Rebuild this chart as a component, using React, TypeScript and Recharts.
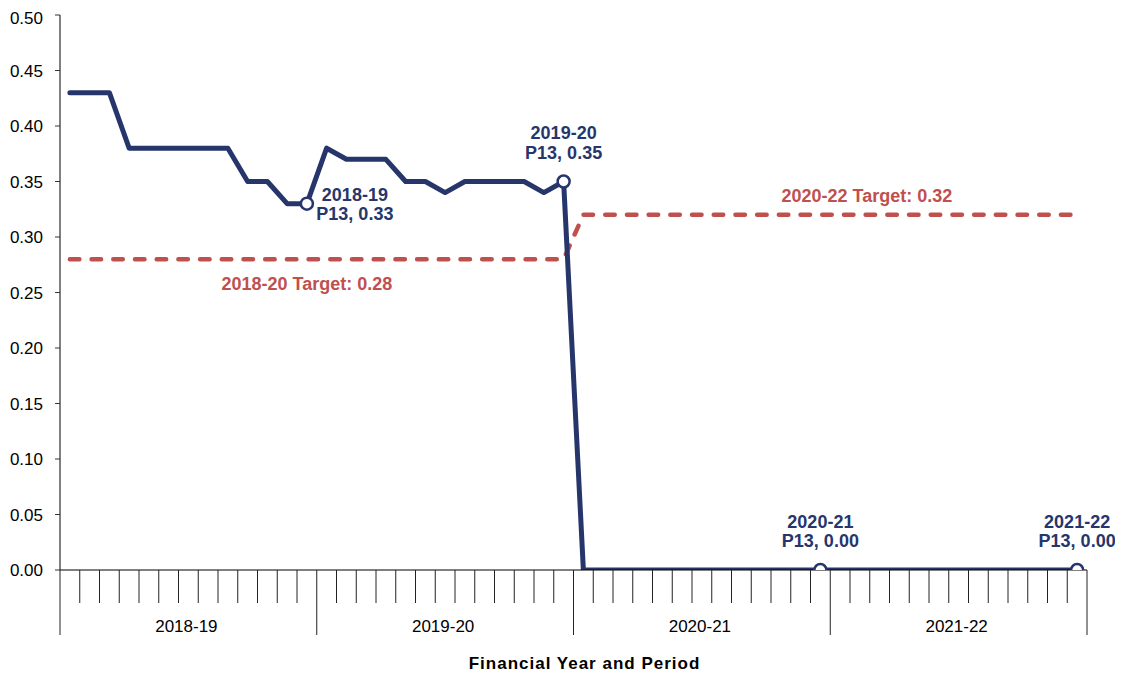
import React from 'react';
import { LineChart, Line, XAxis, YAxis, Label } from 'recharts';

// ---- Data -------------------------------------------------------------
const FIN_YEARS = ['2018-19', '2019-20', '2020-21', '2021-22'];
const PERIODS = ['P1', 'P2', 'P3', 'P4', 'P5', 'P6', 'P7', 'P8', 'P9', 'P10', 'P11', 'P12', 'P13'];

const RATE_2018_19 = [0.43, 0.43, 0.43, 0.38, 0.38, 0.38, 0.38, 0.38, 0.38, 0.35, 0.35, 0.33, 0.33];
const RATE_2019_20 = [0.38, 0.37, 0.37, 0.37, 0.35, 0.35, 0.34, 0.35, 0.35, 0.35, 0.35, 0.34, 0.35];
const RATE_2020_21 = [0, 0, 0, 0, 0, 0, 0, 0, 0, 0, 0, 0, 0];
const RATE_2021_22 = [0, 0, 0, 0, 0, 0, 0, 0, 0, 0, 0, 0, 0];

const TARGET_BY_YEAR = [0.28, 0.28, 0.32, 0.32];
const TARGET_NAMES = ['2018-20', '2018-20', '2020-22', '2020-22'];

const Y_TICKS = [0, 0.05, 0.1, 0.15, 0.2, 0.25, 0.3, 0.35, 0.4, 0.45, 0.5];

const RATES = [RATE_2018_19, RATE_2019_20, RATE_2020_21, RATE_2021_22];

const data = FIN_YEARS.flatMap((fy, y) =>
  PERIODS.map((p, i) => ({
    key: `${fy} ${p}`,
    fy,
    yearIdx: y,
    period: p,
    rate: RATES[y][i],
    target: TARGET_BY_YEAR[y],
    targetName: TARGET_NAMES[y],
  }))
);

// ---- Layout & style ---------------------------------------------------
const CHART_W = 1107;
const CHART_H = 667;
const MARGIN = { top: 7, right: 28, bottom: 0, left: 0 };
const Y_AXIS_W = 52;
const X_AXIS_H = 105;
const PLOT_W = CHART_W - MARGIN.left - MARGIN.right - Y_AXIS_W;
const BAND = PLOT_W / data.length;

const FONT = '"Liberation Sans", Arial, Helvetica, sans-serif';
const NAVY = '#26366B';
const RED = '#C0504D';

// Period tick marks at band edges, longer marks at year boundaries, year names centred.
const PeriodTick = (props: any) => {
  const { x, y, index } = props;
  const n = PERIODS.length;
  const left = x - BAND / 2;
  const right = x + BAND / 2;
  const isYearStart = index % n === 0;
  const isLast = index === data.length - 1;
  const isMid = index % n === Math.floor(n / 2);
  return (
    <g>
      <line x1={left} x2={left} y1={y} y2={y + (isYearStart ? 65 : 33)} stroke="#222" strokeWidth={1} />
      {isLast && <line x1={right} x2={right} y1={y} y2={y + 65} stroke="#222" strokeWidth={1} />}
      {isMid && (
        <text x={x - 2} y={y + 62} textAnchor="middle" fontFamily={FONT} fontSize={17} fill="#000">
          {data[index].fy}
        </text>
      )}
    </g>
  );
};

const AxisTitle = (props: any) => {
  const { viewBox } = props;
  return (
    <text
      x={viewBox.x + viewBox.width / 2 + 11}
      y={viewBox.y + 99}
      textAnchor="middle"
      fontFamily={FONT}
      fontSize={17}
      fontWeight="bold"
      letterSpacing={1}
      fill="#000"
    >
      Financial Year and Period
    </text>
  );
};

// Year-end (P13) markers with their callouts.
const RateDot = (props: any) => {
  const { cx, cy, index, payload } = props;
  if (payload.period !== PERIODS[PERIODS.length - 1]) return <g key={`rd${index}`} />;
  const toRight = payload.yearIdx === 0;
  const tx = toRight ? cx + 48 : cx;
  const y1 = toRight ? cy - 3 : cy - 42.5;
  const y2 = y1 + 19.5;
  return (
    <g key={`rd${index}`}>
      <circle cx={cx} cy={cy} r={6} fill="#fff" stroke={NAVY} strokeWidth={2.5} />
      <text textAnchor="middle" fontFamily={FONT} fontSize={18} fontWeight="bold" fill={NAVY}>
        <tspan x={tx} y={y1}>{payload.fy}</tspan>
        <tspan x={tx} y={y2}>{`${payload.period}, ${payload.rate.toFixed(2)}`}</tspan>
      </text>
    </g>
  );
};

// Target names written once per target period.
const TARGET_LABEL_AT: Record<number, { dx: number; dy: number }> = {
  12: { dx: 0, dy: 31 },
  40: { dx: 7, dy: -12.7 },
};

const TargetDot = (props: any) => {
  const { cx, cy, index, payload } = props;
  const pos = TARGET_LABEL_AT[index];
  if (!pos) return <g key={`td${index}`} />;
  return (
    <text
      key={`td${index}`}
      x={cx + pos.dx}
      y={cy + pos.dy}
      textAnchor="middle"
      fontFamily={FONT}
      fontSize={18}
      fontWeight="bold"
      fill={RED}
    >
      {`${payload.targetName} Target: ${payload.target.toFixed(2)}`}
    </text>
  );
};

export default function App() {
  return (
    <div style={{ width: CHART_W, height: CHART_H, background: '#fff' }}>
      <LineChart width={CHART_W} height={CHART_H} data={data} margin={MARGIN}>
        <XAxis
          dataKey="key"
          scale="band"
          interval={0}
          tickSize={0}
          tickMargin={0}
          tickLine={false}
          axisLine={{ stroke: '#000', strokeWidth: 1 }}
          height={X_AXIS_H}
          tick={PeriodTick}
        >
          <Label content={AxisTitle} />
        </XAxis>
        <YAxis
          domain={[0, 0.5]}
          ticks={Y_TICKS}
          width={Y_AXIS_W}
          tickSize={5}
          tickMargin={12}
          axisLine={{ stroke: '#000', strokeWidth: 1 }}
          tickLine={{ stroke: '#333', strokeWidth: 1 }}
          tick={{ fontFamily: FONT, fontSize: 17, fill: '#000' }}
          tickFormatter={(v: number) => v.toFixed(2)}
          allowDataOverflow
        />
        <Line
          dataKey="target"
          type="linear"
          stroke={RED}
          strokeWidth={4.5}
          strokeDasharray="9.5 12.2"
          strokeLinecap="round"
          dot={TargetDot}
          activeDot={false}
          isAnimationActive={false}
        />
        <Line
          dataKey="rate"
          type="linear"
          stroke={NAVY}
          strokeWidth={5}
          strokeLinejoin="round"
          strokeLinecap="round"
          dot={RateDot}
          activeDot={false}
          isAnimationActive={false}
        />
      </LineChart>
    </div>
  );
}
